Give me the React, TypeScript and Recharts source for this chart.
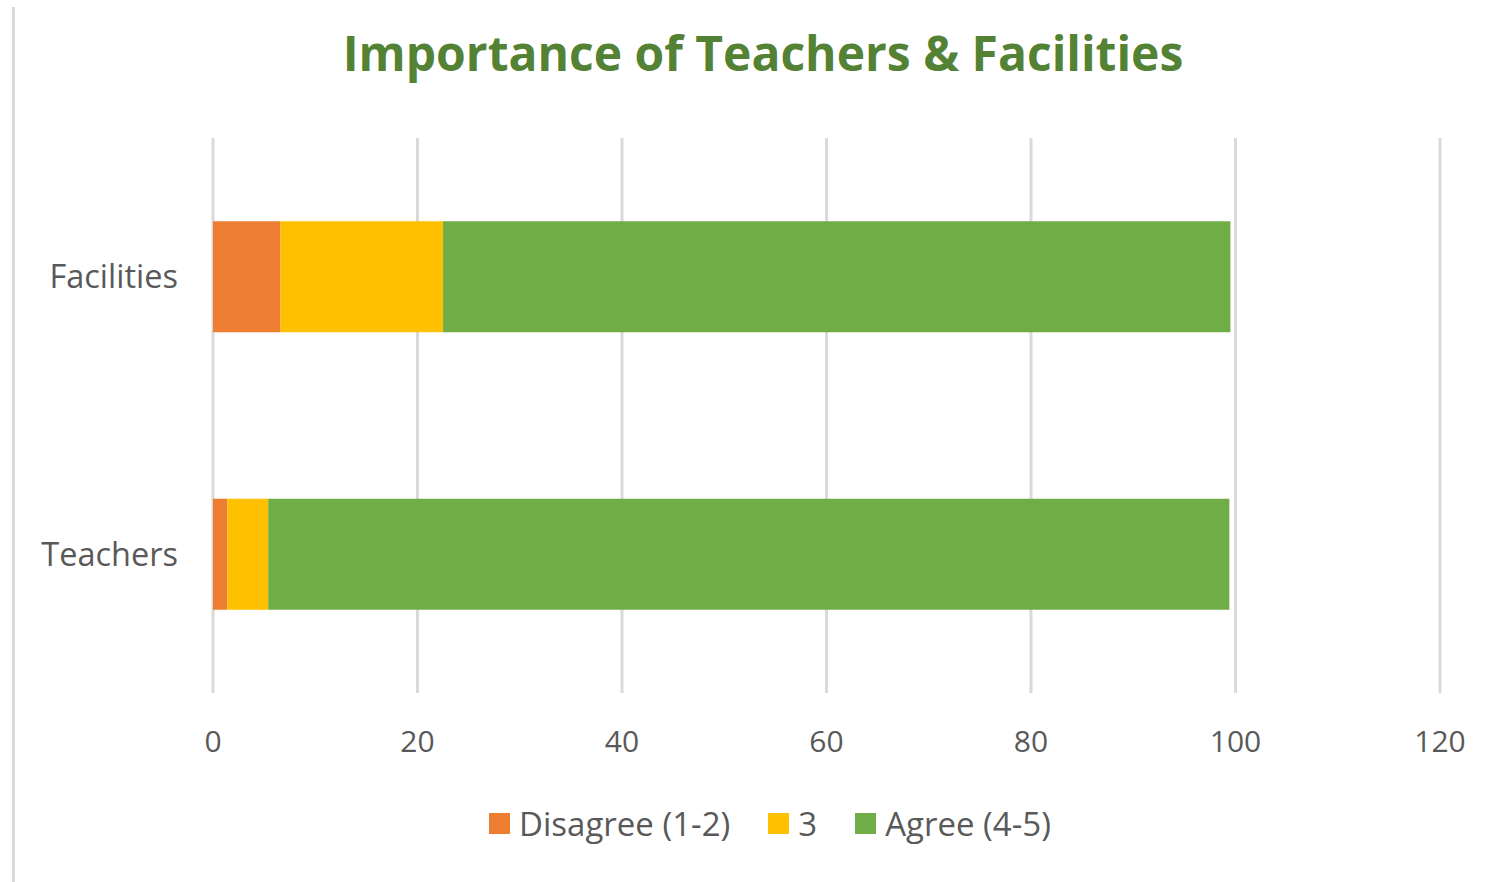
import React from "react";
import { Bar, BarChart, CartesianGrid, Legend, XAxis, YAxis } from "recharts";

const categories = ["Facilities", "Teachers"];
const disagree = [6.6, 1.4];
const neutral = [15.9, 4.0];
const agree = [77.0, 94.0];
const xTicks = [0, 20, 40, 60, 80, 100, 120];

const seriesNames = ["Disagree (1-2)", "3", "Agree (4-5)"];
const colours = ["#ED7D31", "#FFC000", "#70AD47"];

const FONT = "'Open Sans', 'Noto Sans', sans-serif";
const GREY = "#595959";

type Row = { name: string; disagree: number; neutral: number; agree: number };

const chartData: Row[] = categories.map((name, i) => ({
  name,
  disagree: disagree[i],
  neutral: neutral[i],
  agree: agree[i],
}));

const keys = ["disagree", "neutral", "agree"];

const renderLegend = () => (
  <div style={{ display: "flex", justifyContent: "center", alignItems: "center", fontFamily: FONT, fontSize: 33, color: GREY }}>
    {seriesNames.map((label, idx) => (
      <div key={label} style={{ display: "flex", alignItems: "center", marginRight: idx < seriesNames.length - 1 ? 38 : 0 }}>
        <span style={{ display: "inline-block", width: 21, height: 21, background: colours[idx], marginRight: 9 }} />
        <span>{label}</span>
      </div>
    ))}
  </div>
);

export default function App() {
  return (
    <div style={{ position: "absolute", left: 0, top: 0, width: 1509, height: 882, background: "#fff" }}>
      <div style={{ position: "absolute", left: 12, top: 7, width: 3, height: 875, background: "#D9D9D9" }} />
      <div
        style={{
          position: "absolute",
          left: 0,
          width: 1526,
          top: 20,
          textAlign: "center",
          fontFamily: FONT,
          fontWeight: 700,
          fontSize: 48,
          color: "#548235",
        }}
      >
        Importance of Teachers &amp; Facilities
      </div>
      <BarChart
        width={1509}
        height={882}
        data={chartData}
        layout="vertical"
        barCategoryGap="30%"
        margin={{ top: 138, right: 69, left: 0, bottom: 34 }}
      >
        <CartesianGrid horizontal={false} stroke="#D9D9D9" strokeWidth={3} />
        <XAxis
          type="number"
          domain={[0, 120]}
          ticks={xTicks}
          axisLine={false}
          tickLine={false}
          tickSize={0}
          tickMargin={38}
          height={110}
          tick={{ fill: GREY, fontSize: 30, fontFamily: FONT }}
        />
        <YAxis
          type="category"
          dataKey="name"
          width={213}
          axisLine={false}
          tickLine={false}
          tickSize={0}
          tickMargin={35}
          tick={{ fill: GREY, fontSize: 32.5, fontFamily: FONT }}
        />
        <Legend verticalAlign="bottom" content={renderLegend} wrapperStyle={{ left: 0, width: 1540, bottom: 36 }} />
        {keys.map((k, idx) => (
          <Bar key={k} dataKey={k} name={seriesNames[idx]} stackId="1" fill={colours[idx]} isAnimationActive={false} />
        ))}
      </BarChart>
    </div>
  );
}
